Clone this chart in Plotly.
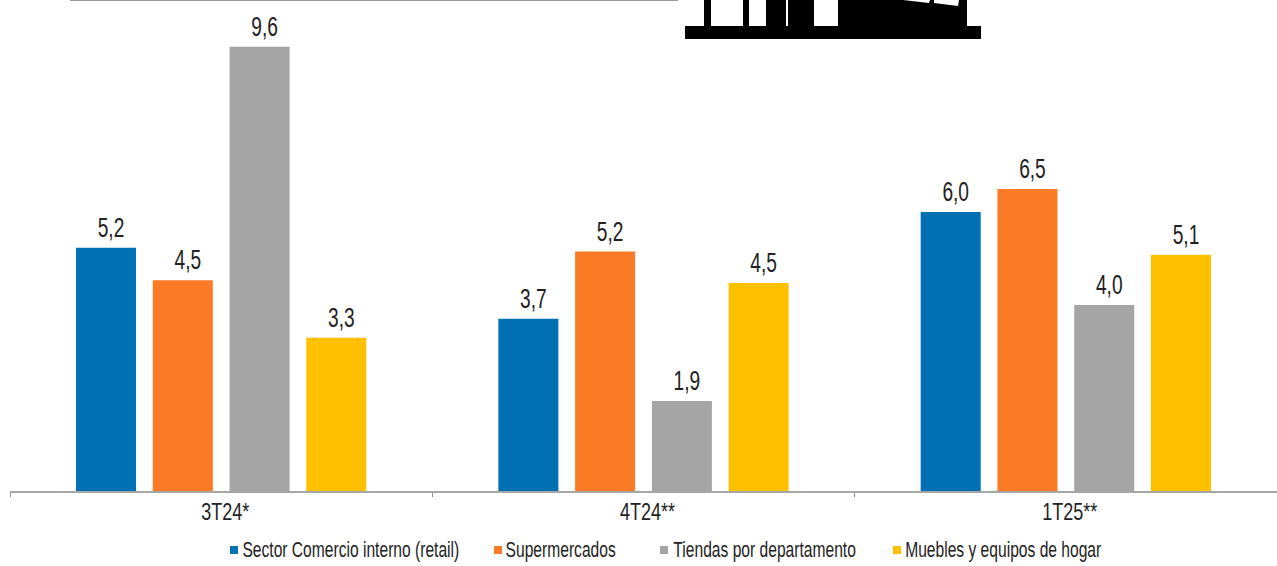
import plotly.graph_objects as go

categories = ["3T24*", "4T24**", "1T25**"]
series_names = ["Sector Comercio interno (retail)", "Supermercados", "Tiendas por departamento", "Muebles y equipos de hogar"]
retail = [5.24, 3.71, 6.01]
supermercados = [4.54, 5.16, 6.51]
tiendas = [9.57, 1.94, 4.01]
muebles = [3.30, 4.48, 5.09]
colors = ["#0070B5", "#FB7A26", "#A5A5A5", "#FFC000"]
value_series = [retail, supermercados, tiendas, muebles]
legend_swatch_px = [230, 494, 660, 893]
legend_text_center_px = [351, 560.5, 764.5, 1003]

W, H = 1277, 566
BASE = 491
LEFT = 10
FONT = "Liberation Sans"

def fmt(v):
    return f"{v:.1f}".replace(".", ",")

fig = go.Figure()
for name, vals, col in zip(series_names, value_series, colors):
    fig.add_bar(x=categories, y=vals, name=name, marker_color=col, marker_line_width=0,
                text=[fmt(v) for v in vals], textposition="outside", cliponaxis=False,
                textfont=dict(family=FONT, size=27, color="#222222"))

def px(x): return (x - LEFT) / (W - LEFT)
def py(y): return (BASE - y) / BASE

shapes = []
def rect(x0, y0, x1, y1, c):
    shapes.append(dict(type="rect", xref="paper", yref="paper", x0=px(x0), x1=px(x1), y0=py(y0), y1=py(y1),
                       fillcolor=c, line_width=0, layer="above"))

# header rule and cropped building pictogram
rect(70, 0, 678, 1, "#9a9a9a")
rect(685, 26, 981, 39, "#000000")
for a, b in [(704, 711), (743, 749), (766, 786), (788, 814), (838, 967)]:
    rect(a, 0, b, 26, "#000000")
shapes.append(dict(type="path", xref="paper", yref="paper", fillcolor="white", line_width=0, layer="above",
                   path=f"M{px(903)},{py(0)} L{px(930)},{py(0)} L{px(929)},{py(3)} Z"))
shapes.append(dict(type="path", xref="paper", yref="paper", fillcolor="white", line_width=0, layer="above",
                   path=f"M{px(934)},{py(0)} L{px(959)},{py(0)} L{px(958)},{py(6)} L{px(934)},{py(3)} Z"))

annotations = []
for name, col, sx, cx in zip(series_names, colors, legend_swatch_px, legend_text_center_px):
    rect(sx, 546, sx + 8, 554, col)
    annotations.append(dict(text=name, xref="paper", yref="paper", x=px(cx), y=py(549), xanchor="center",
                            yanchor="middle", showarrow=False, font=dict(family=FONT, size=22, color="#222222")))

fig.update_layout(
    width=W, height=H, autosize=False, showlegend=False,
    margin=dict(l=LEFT, r=0, t=0, b=H - BASE),
    paper_bgcolor="white", plot_bgcolor="white",
    barmode="group", bargap=0.273, bargroupgap=0.218,
    shapes=shapes, annotations=annotations,
    xaxis=dict(showline=True, linecolor="#A6A6A6", linewidth=2, ticks="outside", ticklen=4, tickcolor="#8c8c8c",
               tickson="boundaries", showgrid=False, tickfont=dict(family=FONT, size=24, color="#222222")),
    yaxis=dict(visible=False, range=[0, 10.58], showgrid=False, zeroline=False),
)
narrow = """
document.body.style.margin='0';
function squeeze(sel,k,dx,dy){
  document.querySelectorAll(sel).forEach(function(t){
    var b=t.getBBox();
    if(b.width>0){
      var c=b.x+b.width/2;
      var old=t.getAttribute('transform')||'';
      t.setAttribute('transform','translate('+dx+','+dy+') '+old+' translate('+c+',0) scale('+k+',1) translate('+(-c)+',0)');
    }
  });
}
squeeze('.bartext text, text.bartext',0.71,5,-2);
squeeze('.xtick text',0.75,4,-2);
squeeze('.annotation-text',0.71,0,0);
"""
fig.write_html("out.html", post_script=narrow, config=dict(displayModeBar=False))
